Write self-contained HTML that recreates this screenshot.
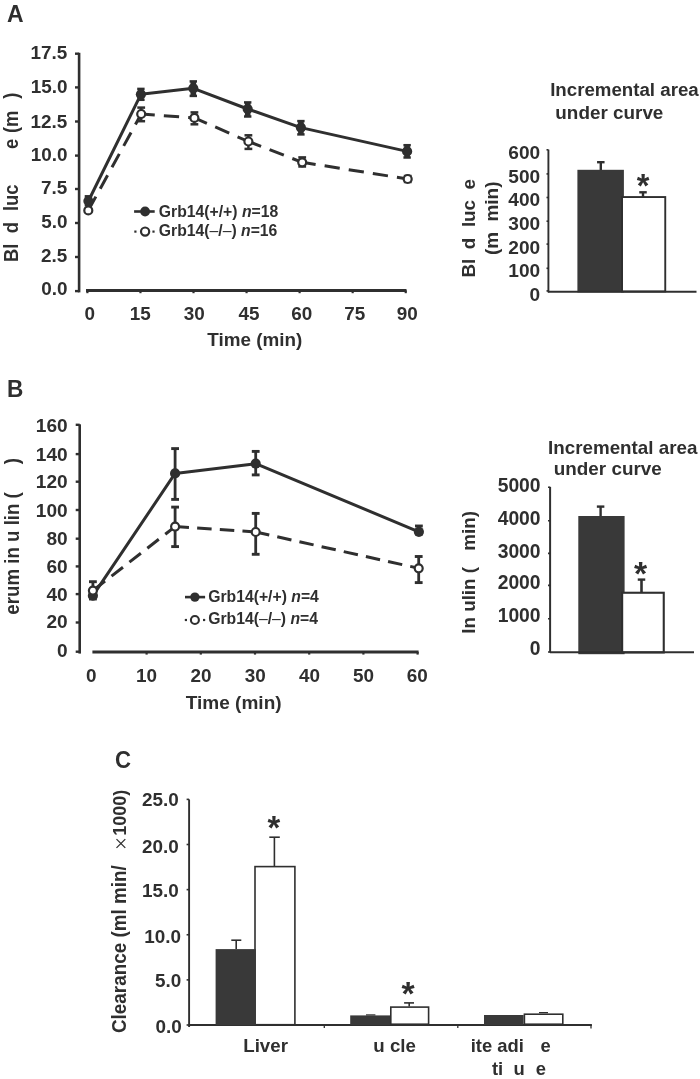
<!DOCTYPE html>
<html><head><meta charset="utf-8"><style>
html,body{margin:0;padding:0;background:#fff;}
svg{display:block;filter:grayscale(1);font-family:"Liberation Sans",sans-serif;}
</style></head><body>
<svg width="700" height="1079" viewBox="0 0 700 1079">
<rect width="700" height="1079" fill="#fff"/>
<text transform="translate(6.93,22.2) scale(0.9900,1)" font-size="23.20" font-weight="bold" font-style="normal" fill="#2f2f2f">A</text>
<line x1="79.1" y1="52.8" x2="79.1" y2="292.4" stroke="#2f2f2f" stroke-width="2.6" />
<line x1="75" y1="53.7" x2="79.1" y2="53.7" stroke="#2f2f2f" stroke-width="2.4" />
<text transform="translate(30.45,59.1) scale(1.0000,1)" font-size="18.90" font-weight="bold" font-style="normal" fill="#2f2f2f">17.5</text>
<line x1="75" y1="87.4" x2="79.1" y2="87.4" stroke="#2f2f2f" stroke-width="2.4" />
<text transform="translate(30.7,93.3) scale(1.0000,1)" font-size="18.90" font-weight="bold" font-style="normal" fill="#2f2f2f">15.0</text>
<line x1="75" y1="121.5" x2="79.1" y2="121.5" stroke="#2f2f2f" stroke-width="2.4" />
<text transform="translate(30.45,127.7) scale(1.0000,1)" font-size="18.90" font-weight="bold" font-style="normal" fill="#2f2f2f">12.5</text>
<line x1="75" y1="155.6" x2="79.1" y2="155.6" stroke="#2f2f2f" stroke-width="2.4" />
<text transform="translate(30.7,161) scale(1.0000,1)" font-size="18.90" font-weight="bold" font-style="normal" fill="#2f2f2f">10.0</text>
<line x1="75" y1="189" x2="79.1" y2="189" stroke="#2f2f2f" stroke-width="2.4" />
<text transform="translate(40.96,193.8) scale(1.0000,1)" font-size="18.90" font-weight="bold" font-style="normal" fill="#2f2f2f">7.5</text>
<line x1="75" y1="223" x2="79.1" y2="223" stroke="#2f2f2f" stroke-width="2.4" />
<text transform="translate(41.2,228.2) scale(1.0000,1)" font-size="18.90" font-weight="bold" font-style="normal" fill="#2f2f2f">5.0</text>
<line x1="75" y1="257" x2="79.1" y2="257" stroke="#2f2f2f" stroke-width="2.4" />
<text transform="translate(40.96,262.1) scale(1.0000,1)" font-size="18.90" font-weight="bold" font-style="normal" fill="#2f2f2f">2.5</text>
<line x1="75" y1="291.1" x2="79.1" y2="291.1" stroke="#2f2f2f" stroke-width="2.4" />
<text transform="translate(41.2,294.7) scale(1.0000,1)" font-size="18.90" font-weight="bold" font-style="normal" fill="#2f2f2f">0.0</text>
<line x1="86" y1="290.5" x2="406.5" y2="290.5" stroke="#2f2f2f" stroke-width="2.9" />
<line x1="87.4" y1="290.3" x2="87.4" y2="293.2" stroke="#2f2f2f" stroke-width="2.2" />
<text transform="translate(84.51,320.3) scale(1.0000,1)" font-size="18.90" font-weight="bold" font-style="normal" fill="#2f2f2f">0</text>
<line x1="140.46" y1="290.3" x2="140.46" y2="293.2" stroke="#2f2f2f" stroke-width="2.2" />
<text transform="translate(129.86,320.3) scale(1.0000,1)" font-size="18.90" font-weight="bold" font-style="normal" fill="#2f2f2f">15</text>
<line x1="193.51" y1="290.3" x2="193.51" y2="293.2" stroke="#2f2f2f" stroke-width="2.2" />
<text transform="translate(183.76,320.3) scale(1.0000,1)" font-size="18.90" font-weight="bold" font-style="normal" fill="#2f2f2f">30</text>
<line x1="246.56" y1="290.3" x2="246.56" y2="293.2" stroke="#2f2f2f" stroke-width="2.2" />
<text transform="translate(238.61,320.3) scale(1.0000,1)" font-size="18.90" font-weight="bold" font-style="normal" fill="#2f2f2f">45</text>
<line x1="299.62" y1="290.3" x2="299.62" y2="293.2" stroke="#2f2f2f" stroke-width="2.2" />
<text transform="translate(291.23,320.3) scale(1.0000,1)" font-size="18.90" font-weight="bold" font-style="normal" fill="#2f2f2f">60</text>
<line x1="352.67" y1="290.3" x2="352.67" y2="293.2" stroke="#2f2f2f" stroke-width="2.2" />
<text transform="translate(344.25,320.3) scale(1.0000,1)" font-size="18.90" font-weight="bold" font-style="normal" fill="#2f2f2f">75</text>
<line x1="405.73" y1="290.3" x2="405.73" y2="293.2" stroke="#2f2f2f" stroke-width="2.2" />
<text transform="translate(396.65,320.3) scale(1.0000,1)" font-size="18.90" font-weight="bold" font-style="normal" fill="#2f2f2f">90</text>
<text transform="translate(207.29,346.2) scale(1.0300,1)" font-size="18.30" font-weight="bold" font-style="normal" fill="#2f2f2f">Time (min)</text>
<text transform="translate(18.3,262.03) scale(1.0700,1) rotate(-90)" font-size="18.30" font-weight="bold" fill="#2f2f2f">Bl</text>
<text transform="translate(18.3,233.25) scale(1.0700,1) rotate(-90)" font-size="18.30" font-weight="bold" fill="#2f2f2f">d</text>
<text transform="translate(18.3,211.08) scale(1.0700,1) rotate(-90)" font-size="18.30" font-weight="bold" fill="#2f2f2f">luc</text>
<text transform="translate(18.3,149.01) scale(1.0700,1) rotate(-90)" font-size="18.30" font-weight="bold" fill="#2f2f2f">e</text>
<text transform="translate(18.3,133.01) scale(1.0700,1) rotate(-90)" font-size="18.30" font-weight="bold" fill="#2f2f2f">(m</text>
<text transform="translate(18.3,98.77) scale(1.0700,1) rotate(-90)" font-size="18.30" font-weight="bold" fill="#2f2f2f">)</text>
<line x1="88.3" y1="210.4" x2="141.2" y2="114" stroke="#2f2f2f" stroke-width="3.0" stroke-dasharray="15.3,9.1" stroke-dashoffset="-0.4"/>
<line x1="141.2" y1="114" x2="194.4" y2="117.9" stroke="#2f2f2f" stroke-width="3.0" stroke-dasharray="15.3,9.1" stroke-dashoffset="1.7"/>
<line x1="194.4" y1="117.9" x2="248.4" y2="141.5" stroke="#2f2f2f" stroke-width="3.0" stroke-dasharray="15.3,9.1" stroke-dashoffset="1.7"/>
<line x1="248.4" y1="141.5" x2="302.2" y2="162.3" stroke="#2f2f2f" stroke-width="3.0" stroke-dasharray="15.3,9.1" stroke-dashoffset="1.7"/>
<line x1="302.2" y1="162.3" x2="407.7" y2="179" stroke="#2f2f2f" stroke-width="3.0" stroke-dasharray="15.3,9.1" stroke-dashoffset="1.7"/>
<polyline points="88.4,201 140.9,94.3 193.3,88.3 247.7,109 300.9,127.6 407.1,151.4" fill="none" stroke="#2f2f2f" stroke-width="3.0" stroke-linejoin="round" />
<line x1="88.4" y1="196.3" x2="88.4" y2="205" stroke="#2f2f2f" stroke-width="2.5" />
<line x1="84.7" y1="196.3" x2="92.1" y2="196.3" stroke="#2f2f2f" stroke-width="2.5" />
<line x1="84.7" y1="205" x2="92.1" y2="205" stroke="#2f2f2f" stroke-width="2.5" />
<line x1="140.9" y1="88.9" x2="140.9" y2="99.8" stroke="#2f2f2f" stroke-width="2.5" />
<line x1="137.2" y1="88.9" x2="144.6" y2="88.9" stroke="#2f2f2f" stroke-width="2.5" />
<line x1="137.2" y1="99.8" x2="144.6" y2="99.8" stroke="#2f2f2f" stroke-width="2.5" />
<rect x="138.1" y="88.9" width="5.6" height="10.9" fill="#2f2f2f"/>
<line x1="193.3" y1="81.4" x2="193.3" y2="95.9" stroke="#2f2f2f" stroke-width="2.5" />
<line x1="189.6" y1="81.4" x2="197" y2="81.4" stroke="#2f2f2f" stroke-width="2.5" />
<line x1="189.6" y1="95.9" x2="197" y2="95.9" stroke="#2f2f2f" stroke-width="2.5" />
<rect x="190.5" y="81.4" width="5.6" height="14.5" fill="#2f2f2f"/>
<line x1="247.7" y1="102.4" x2="247.7" y2="116.5" stroke="#2f2f2f" stroke-width="2.5" />
<line x1="244" y1="102.4" x2="251.4" y2="102.4" stroke="#2f2f2f" stroke-width="2.5" />
<line x1="244" y1="116.5" x2="251.4" y2="116.5" stroke="#2f2f2f" stroke-width="2.5" />
<rect x="244.9" y="102.4" width="5.6" height="14.1" fill="#2f2f2f"/>
<line x1="300.9" y1="121.1" x2="300.9" y2="134.4" stroke="#2f2f2f" stroke-width="2.5" />
<line x1="297.2" y1="121.1" x2="304.6" y2="121.1" stroke="#2f2f2f" stroke-width="2.5" />
<line x1="297.2" y1="134.4" x2="304.6" y2="134.4" stroke="#2f2f2f" stroke-width="2.5" />
<rect x="298.1" y="121.1" width="5.6" height="13.3" fill="#2f2f2f"/>
<line x1="407.1" y1="145.2" x2="407.1" y2="157.5" stroke="#2f2f2f" stroke-width="2.5" />
<line x1="403.4" y1="145.2" x2="410.8" y2="145.2" stroke="#2f2f2f" stroke-width="2.5" />
<line x1="403.4" y1="157.5" x2="410.8" y2="157.5" stroke="#2f2f2f" stroke-width="2.5" />
<rect x="404.3" y="145.2" width="5.6" height="12.3" fill="#2f2f2f"/>
<line x1="141.2" y1="107.6" x2="141.2" y2="121.2" stroke="#2f2f2f" stroke-width="2.5" />
<line x1="137.3" y1="107.6" x2="145.1" y2="107.6" stroke="#2f2f2f" stroke-width="2.5" />
<line x1="137.3" y1="121.2" x2="145.1" y2="121.2" stroke="#2f2f2f" stroke-width="2.5" />
<line x1="194.4" y1="112.4" x2="194.4" y2="124.3" stroke="#2f2f2f" stroke-width="2.5" />
<line x1="190.5" y1="112.4" x2="198.3" y2="112.4" stroke="#2f2f2f" stroke-width="2.5" />
<line x1="190.5" y1="124.3" x2="198.3" y2="124.3" stroke="#2f2f2f" stroke-width="2.5" />
<line x1="248.4" y1="135.3" x2="248.4" y2="148.9" stroke="#2f2f2f" stroke-width="2.5" />
<line x1="244.5" y1="135.3" x2="252.3" y2="135.3" stroke="#2f2f2f" stroke-width="2.5" />
<line x1="244.5" y1="148.9" x2="252.3" y2="148.9" stroke="#2f2f2f" stroke-width="2.5" />
<line x1="302.2" y1="157.4" x2="302.2" y2="166.5" stroke="#2f2f2f" stroke-width="2.5" />
<line x1="298.3" y1="157.4" x2="306.1" y2="157.4" stroke="#2f2f2f" stroke-width="2.5" />
<line x1="298.3" y1="166.5" x2="306.1" y2="166.5" stroke="#2f2f2f" stroke-width="2.5" />
<line x1="407.7" y1="176" x2="407.7" y2="182" stroke="#2f2f2f" stroke-width="2.5" />
<line x1="403.8" y1="176" x2="411.6" y2="176" stroke="#2f2f2f" stroke-width="2.5" />
<line x1="403.8" y1="182" x2="411.6" y2="182" stroke="#2f2f2f" stroke-width="2.5" />
<circle cx="88.4" cy="201" r="5.1" fill="#2f2f2f" stroke="none" stroke-width="0"/>
<circle cx="140.9" cy="94.3" r="5.1" fill="#2f2f2f" stroke="none" stroke-width="0"/>
<circle cx="193.3" cy="88.3" r="5.1" fill="#2f2f2f" stroke="none" stroke-width="0"/>
<circle cx="247.7" cy="109" r="5.1" fill="#2f2f2f" stroke="none" stroke-width="0"/>
<circle cx="300.9" cy="127.6" r="5.1" fill="#2f2f2f" stroke="none" stroke-width="0"/>
<circle cx="407.1" cy="151.4" r="5.1" fill="#2f2f2f" stroke="none" stroke-width="0"/>
<circle cx="88.3" cy="210.4" r="4" fill="#fff" stroke="#2f2f2f" stroke-width="2.2"/>
<circle cx="141.2" cy="114" r="4" fill="#fff" stroke="#2f2f2f" stroke-width="2.2"/>
<circle cx="194.4" cy="117.9" r="4" fill="#fff" stroke="#2f2f2f" stroke-width="2.2"/>
<circle cx="248.4" cy="141.5" r="4" fill="#fff" stroke="#2f2f2f" stroke-width="2.2"/>
<circle cx="302.2" cy="162.3" r="4" fill="#fff" stroke="#2f2f2f" stroke-width="2.2"/>
<circle cx="407.7" cy="179" r="4" fill="#fff" stroke="#2f2f2f" stroke-width="2.2"/>
<line x1="134.1" y1="211.5" x2="154.7" y2="211.5" stroke="#2f2f2f" stroke-width="2.6" />
<circle cx="145.1" cy="211.5" r="4.9" fill="#2f2f2f" stroke="none" stroke-width="0"/>
<line x1="134.3" y1="231.6" x2="136.5" y2="231.6" stroke="#2f2f2f" stroke-width="2.2" />
<line x1="152.4" y1="231.6" x2="154.6" y2="231.6" stroke="#2f2f2f" stroke-width="2.2" />
<circle cx="145.1" cy="231.6" r="4.1" fill="#fff" stroke="#2f2f2f" stroke-width="2.2"/>
<text transform="translate(158.8,216.9) scale(0.9900,1)" font-size="15.90" font-weight="bold" font-style="normal" fill="#2f2f2f">Grb14(+/+) <tspan font-style="italic">n</tspan>=18</text>
<text transform="translate(158.8,235.8) scale(0.9900,1)" font-size="15.90" font-weight="bold" font-style="normal" fill="#2f2f2f">Grb14(<tspan font-weight="normal">–</tspan>/<tspan font-weight="normal">–</tspan>) <tspan font-style="italic">n</tspan>=16</text>
<text transform="translate(550.15,95.7) scale(1.0000,1)" font-size="18.70" font-weight="bold" font-style="normal" fill="#2f2f2f">Incremental area</text>
<text transform="translate(555.33,118.5) scale(1.0100,1)" font-size="18.70" font-weight="bold" font-style="normal" fill="#2f2f2f">under curve</text>
<line x1="548.4" y1="149.6" x2="548.4" y2="292.4" stroke="#2f2f2f" stroke-width="1.9" />
<line x1="546.5" y1="149.8" x2="548.4" y2="149.8" stroke="#2f2f2f" stroke-width="1.6" />
<text transform="translate(508.32,159) scale(1.0000,1)" font-size="19.10" font-weight="bold" font-style="normal" fill="#2f2f2f">600</text>
<line x1="546.5" y1="173.9" x2="548.4" y2="173.9" stroke="#2f2f2f" stroke-width="1.6" />
<text transform="translate(508.32,182.9) scale(1.0000,1)" font-size="19.10" font-weight="bold" font-style="normal" fill="#2f2f2f">500</text>
<line x1="546.5" y1="197.5" x2="548.4" y2="197.5" stroke="#2f2f2f" stroke-width="1.6" />
<text transform="translate(508.32,206.4) scale(1.0000,1)" font-size="19.10" font-weight="bold" font-style="normal" fill="#2f2f2f">400</text>
<line x1="546.5" y1="221.2" x2="548.4" y2="221.2" stroke="#2f2f2f" stroke-width="1.6" />
<text transform="translate(508.32,230.2) scale(1.0000,1)" font-size="19.10" font-weight="bold" font-style="normal" fill="#2f2f2f">300</text>
<line x1="546.5" y1="244.1" x2="548.4" y2="244.1" stroke="#2f2f2f" stroke-width="1.6" />
<text transform="translate(508.32,253.6) scale(1.0000,1)" font-size="19.10" font-weight="bold" font-style="normal" fill="#2f2f2f">200</text>
<line x1="546.5" y1="268.3" x2="548.4" y2="268.3" stroke="#2f2f2f" stroke-width="1.6" />
<text transform="translate(508.32,277.3) scale(1.0000,1)" font-size="19.10" font-weight="bold" font-style="normal" fill="#2f2f2f">100</text>
<line x1="546.5" y1="290.9" x2="548.4" y2="290.9" stroke="#2f2f2f" stroke-width="1.6" />
<text transform="translate(529.56,300.6) scale(1.0000,1)" font-size="19.10" font-weight="bold" font-style="normal" fill="#2f2f2f">0</text>
<rect x="577.4" y="169.8" width="46.5" height="122.6" fill="#393939"/>
<rect x="622.05" y="197.05" width="43.2" height="94.4" fill="#fff" stroke="#2f2f2f" stroke-width="1.9"/>
<line x1="548" y1="291.7" x2="696.5" y2="291.7" stroke="#2f2f2f" stroke-width="1.9" />
<line x1="600.8" y1="162.2" x2="600.8" y2="170" stroke="#2f2f2f" stroke-width="2.4" />
<line x1="597.05" y1="162.2" x2="604.55" y2="162.2" stroke="#2f2f2f" stroke-width="2.4" />
<line x1="643" y1="192.3" x2="643" y2="197" stroke="#2f2f2f" stroke-width="2.4" />
<line x1="639.25" y1="192.3" x2="646.75" y2="192.3" stroke="#2f2f2f" stroke-width="2.4" />
<text transform="translate(636.65,196.7) scale(1.0000,1)" font-size="32.47" font-weight="bold" font-style="normal" fill="#2f2f2f">*</text>
<text transform="translate(474.9,277.56) scale(1.0000,1) rotate(-90)" font-size="18.80" font-weight="bold" fill="#2f2f2f">Bl</text>
<text transform="translate(474.9,249.27) scale(1.0000,1) rotate(-90)" font-size="18.80" font-weight="bold" fill="#2f2f2f">d</text>
<text transform="translate(474.9,227.12) scale(1.0000,1) rotate(-90)" font-size="18.80" font-weight="bold" fill="#2f2f2f">luc</text>
<text transform="translate(474.9,189.53) scale(1.0000,1) rotate(-90)" font-size="18.80" font-weight="bold" fill="#2f2f2f">e</text>
<text transform="translate(497.8,255.05) scale(1.0000,1) rotate(-90)" font-size="19.00" font-weight="bold" fill="#2f2f2f">(m</text>
<text transform="translate(497.8,221.55) scale(1.0000,1) rotate(-90)" font-size="19.00" font-weight="bold" fill="#2f2f2f">min)</text>
<text transform="translate(7.08,396.9) scale(0.9400,1)" font-size="24.10" font-weight="bold" font-style="normal" fill="#2f2f2f">B</text>
<line x1="79.7" y1="424.3" x2="79.7" y2="653.6" stroke="#2f2f2f" stroke-width="2.6" />
<line x1="75.7" y1="424.8" x2="79.7" y2="424.8" stroke="#2f2f2f" stroke-width="2.4" />
<text transform="translate(35.82,431.6) scale(1.0000,1)" font-size="19.10" font-weight="bold" font-style="normal" fill="#2f2f2f">160</text>
<line x1="75.7" y1="454.1" x2="79.7" y2="454.1" stroke="#2f2f2f" stroke-width="2.4" />
<text transform="translate(35.82,460.55) scale(1.0000,1)" font-size="19.10" font-weight="bold" font-style="normal" fill="#2f2f2f">140</text>
<line x1="75.7" y1="481.7" x2="79.7" y2="481.7" stroke="#2f2f2f" stroke-width="2.4" />
<text transform="translate(35.82,487.95) scale(1.0000,1)" font-size="19.10" font-weight="bold" font-style="normal" fill="#2f2f2f">120</text>
<line x1="75.7" y1="510" x2="79.7" y2="510" stroke="#2f2f2f" stroke-width="2.4" />
<text transform="translate(35.82,516.5) scale(1.0000,1)" font-size="19.10" font-weight="bold" font-style="normal" fill="#2f2f2f">100</text>
<line x1="75.7" y1="538.7" x2="79.7" y2="538.7" stroke="#2f2f2f" stroke-width="2.4" />
<text transform="translate(46.44,545.1) scale(1.0000,1)" font-size="19.10" font-weight="bold" font-style="normal" fill="#2f2f2f">80</text>
<line x1="75.7" y1="566.4" x2="79.7" y2="566.4" stroke="#2f2f2f" stroke-width="2.4" />
<text transform="translate(46.44,572.6) scale(1.0000,1)" font-size="19.10" font-weight="bold" font-style="normal" fill="#2f2f2f">60</text>
<line x1="75.7" y1="594.1" x2="79.7" y2="594.1" stroke="#2f2f2f" stroke-width="2.4" />
<text transform="translate(46.44,600.5) scale(1.0000,1)" font-size="19.10" font-weight="bold" font-style="normal" fill="#2f2f2f">40</text>
<line x1="75.7" y1="622.5" x2="79.7" y2="622.5" stroke="#2f2f2f" stroke-width="2.4" />
<text transform="translate(46.44,628) scale(1.0000,1)" font-size="19.10" font-weight="bold" font-style="normal" fill="#2f2f2f">20</text>
<line x1="75.7" y1="651.7" x2="79.7" y2="651.7" stroke="#2f2f2f" stroke-width="2.4" />
<text transform="translate(57.06,656.6) scale(1.0000,1)" font-size="19.10" font-weight="bold" font-style="normal" fill="#2f2f2f">0</text>
<line x1="92.4" y1="652" x2="418.6" y2="652" stroke="#2f2f2f" stroke-width="2.9" />
<text transform="translate(85.96,681.6) scale(1.0000,1)" font-size="18.90" font-weight="bold" font-style="normal" fill="#2f2f2f">0</text>
<line x1="146.6" y1="651.9" x2="146.6" y2="654.6" stroke="#2f2f2f" stroke-width="2.2" />
<text transform="translate(135.88,681.6) scale(1.0000,1)" font-size="18.90" font-weight="bold" font-style="normal" fill="#2f2f2f">10</text>
<line x1="200.8" y1="651.9" x2="200.8" y2="654.6" stroke="#2f2f2f" stroke-width="2.2" />
<text transform="translate(190.45,681.6) scale(1.0000,1)" font-size="18.90" font-weight="bold" font-style="normal" fill="#2f2f2f">20</text>
<line x1="255" y1="651.9" x2="255" y2="654.6" stroke="#2f2f2f" stroke-width="2.2" />
<text transform="translate(244.66,681.6) scale(1.0000,1)" font-size="18.90" font-weight="bold" font-style="normal" fill="#2f2f2f">30</text>
<line x1="309.2" y1="651.9" x2="309.2" y2="654.6" stroke="#2f2f2f" stroke-width="2.2" />
<text transform="translate(299.04,681.6) scale(1.0000,1)" font-size="18.90" font-weight="bold" font-style="normal" fill="#2f2f2f">40</text>
<line x1="363.4" y1="651.9" x2="363.4" y2="654.6" stroke="#2f2f2f" stroke-width="2.2" />
<text transform="translate(353.09,681.6) scale(1.0000,1)" font-size="18.90" font-weight="bold" font-style="normal" fill="#2f2f2f">50</text>
<line x1="417.6" y1="651.9" x2="417.6" y2="654.6" stroke="#2f2f2f" stroke-width="2.2" />
<text transform="translate(406.63,681.6) scale(1.0000,1)" font-size="18.90" font-weight="bold" font-style="normal" fill="#2f2f2f">60</text>
<text transform="translate(185.79,708.6) scale(1.0400,1)" font-size="18.30" font-weight="bold" font-style="normal" fill="#2f2f2f">Time (min)</text>
<text transform="translate(18.7,614.63) scale(1.0600,1) rotate(-90)" font-size="18.70" font-weight="bold" fill="#2f2f2f">erum in u lin (</text>
<text transform="translate(18.7,464.22) scale(1.0600,1) rotate(-90)" font-size="18.70" font-weight="bold" fill="#2f2f2f">)</text>
<line x1="92.9" y1="590.6" x2="175.1" y2="526.6" stroke="#2f2f2f" stroke-width="3.0" stroke-dasharray="14.5,8.2" stroke-dashoffset="-0.9"/>
<line x1="175.1" y1="526.6" x2="255.7" y2="532" stroke="#2f2f2f" stroke-width="3.0" stroke-dasharray="14.5,8.2" stroke-dashoffset="0.6"/>
<line x1="255.7" y1="532" x2="418.7" y2="568.3" stroke="#2f2f2f" stroke-width="3.0" stroke-dasharray="14.5,8.2" stroke-dashoffset="0.6"/>
<polyline points="92.9,595.7 175.1,473.4 255.7,463.7 418.9,531.8" fill="none" stroke="#2f2f2f" stroke-width="3.0" stroke-linejoin="round" />
<line x1="92.9" y1="590" x2="92.9" y2="599" stroke="#2f2f2f" stroke-width="2.8" />
<line x1="89" y1="590" x2="96.8" y2="590" stroke="#2f2f2f" stroke-width="2.9" />
<line x1="89" y1="599" x2="96.8" y2="599" stroke="#2f2f2f" stroke-width="2.9" />
<line x1="175.1" y1="448.6" x2="175.1" y2="499.4" stroke="#2f2f2f" stroke-width="2.8" />
<line x1="171.2" y1="448.6" x2="179" y2="448.6" stroke="#2f2f2f" stroke-width="2.9" />
<line x1="171.2" y1="499.4" x2="179" y2="499.4" stroke="#2f2f2f" stroke-width="2.9" />
<line x1="255.7" y1="451.4" x2="255.7" y2="474.9" stroke="#2f2f2f" stroke-width="2.8" />
<line x1="251.8" y1="451.4" x2="259.6" y2="451.4" stroke="#2f2f2f" stroke-width="2.9" />
<line x1="251.8" y1="474.9" x2="259.6" y2="474.9" stroke="#2f2f2f" stroke-width="2.9" />
<line x1="418.9" y1="526" x2="418.9" y2="534" stroke="#2f2f2f" stroke-width="2.8" />
<line x1="415" y1="526" x2="422.8" y2="526" stroke="#2f2f2f" stroke-width="2.9" />
<line x1="415" y1="534" x2="422.8" y2="534" stroke="#2f2f2f" stroke-width="2.9" />
<line x1="92.9" y1="581.7" x2="92.9" y2="596" stroke="#2f2f2f" stroke-width="2.8" />
<line x1="89" y1="581.7" x2="96.8" y2="581.7" stroke="#2f2f2f" stroke-width="2.9" />
<line x1="89" y1="596" x2="96.8" y2="596" stroke="#2f2f2f" stroke-width="2.9" />
<line x1="175.1" y1="507.1" x2="175.1" y2="546.6" stroke="#2f2f2f" stroke-width="2.8" />
<line x1="171.2" y1="507.1" x2="179" y2="507.1" stroke="#2f2f2f" stroke-width="2.9" />
<line x1="171.2" y1="546.6" x2="179" y2="546.6" stroke="#2f2f2f" stroke-width="2.9" />
<line x1="255.7" y1="513.4" x2="255.7" y2="554.3" stroke="#2f2f2f" stroke-width="2.8" />
<line x1="251.8" y1="513.4" x2="259.6" y2="513.4" stroke="#2f2f2f" stroke-width="2.9" />
<line x1="251.8" y1="554.3" x2="259.6" y2="554.3" stroke="#2f2f2f" stroke-width="2.9" />
<line x1="418.7" y1="556.5" x2="418.7" y2="582.6" stroke="#2f2f2f" stroke-width="2.8" />
<line x1="414.8" y1="556.5" x2="422.6" y2="556.5" stroke="#2f2f2f" stroke-width="2.9" />
<line x1="414.8" y1="582.6" x2="422.6" y2="582.6" stroke="#2f2f2f" stroke-width="2.9" />
<circle cx="92.9" cy="595.7" r="5.1" fill="#2f2f2f" stroke="none" stroke-width="0"/>
<circle cx="175.1" cy="473.4" r="5.1" fill="#2f2f2f" stroke="none" stroke-width="0"/>
<circle cx="255.7" cy="463.7" r="5.1" fill="#2f2f2f" stroke="none" stroke-width="0"/>
<circle cx="418.9" cy="531.8" r="5.1" fill="#2f2f2f" stroke="none" stroke-width="0"/>
<circle cx="92.9" cy="590.6" r="4" fill="#fff" stroke="#2f2f2f" stroke-width="2.2"/>
<circle cx="175.1" cy="526.6" r="4" fill="#fff" stroke="#2f2f2f" stroke-width="2.2"/>
<circle cx="255.7" cy="532" r="4" fill="#fff" stroke="#2f2f2f" stroke-width="2.2"/>
<circle cx="418.7" cy="568.3" r="4" fill="#fff" stroke="#2f2f2f" stroke-width="2.2"/>
<line x1="185" y1="597.1" x2="205.1" y2="597.1" stroke="#2f2f2f" stroke-width="2.6" />
<circle cx="194.9" cy="597.1" r="4.7" fill="#2f2f2f" stroke="none" stroke-width="0"/>
<line x1="184.8" y1="620" x2="187" y2="620" stroke="#2f2f2f" stroke-width="2.2" />
<line x1="203" y1="620" x2="205.2" y2="620" stroke="#2f2f2f" stroke-width="2.2" />
<circle cx="194.9" cy="620" r="4" fill="#fff" stroke="#2f2f2f" stroke-width="2.1"/>
<text transform="translate(208.2,601.9) scale(0.9900,1)" font-size="15.90" font-weight="bold" font-style="normal" fill="#2f2f2f">Grb14(+/+) <tspan font-style="italic">n</tspan>=4</text>
<text transform="translate(208.2,624.1) scale(0.9900,1)" font-size="15.90" font-weight="bold" font-style="normal" fill="#2f2f2f">Grb14(<tspan font-weight="normal">–</tspan>/<tspan font-weight="normal">–</tspan>) <tspan font-style="italic">n</tspan>=4</text>
<text transform="translate(548.04,453.5) scale(1.0050,1)" font-size="18.70" font-weight="bold" font-style="normal" fill="#2f2f2f">Incremental area</text>
<text transform="translate(553.73,475.4) scale(1.0100,1)" font-size="18.70" font-weight="bold" font-style="normal" fill="#2f2f2f">under curve</text>
<line x1="550.1" y1="486.8" x2="550.1" y2="652.5" stroke="#2f2f2f" stroke-width="2.0" />
<line x1="548" y1="487.2" x2="550" y2="487.2" stroke="#2f2f2f" stroke-width="1.6" />
<text transform="translate(497.67,491.7) scale(1.0000,1)" font-size="19.30" font-weight="bold" font-style="normal" fill="#2f2f2f">5000</text>
<line x1="548" y1="520.8" x2="550" y2="520.8" stroke="#2f2f2f" stroke-width="1.6" />
<text transform="translate(497.67,524.6) scale(1.0000,1)" font-size="19.30" font-weight="bold" font-style="normal" fill="#2f2f2f">4000</text>
<line x1="548" y1="553.4" x2="550" y2="553.4" stroke="#2f2f2f" stroke-width="1.6" />
<text transform="translate(497.67,557.6) scale(1.0000,1)" font-size="19.30" font-weight="bold" font-style="normal" fill="#2f2f2f">3000</text>
<line x1="548" y1="585.4" x2="550" y2="585.4" stroke="#2f2f2f" stroke-width="1.6" />
<text transform="translate(497.67,589.4) scale(1.0000,1)" font-size="19.30" font-weight="bold" font-style="normal" fill="#2f2f2f">2000</text>
<line x1="548" y1="618.8" x2="550" y2="618.8" stroke="#2f2f2f" stroke-width="1.6" />
<text transform="translate(497.67,622.4) scale(1.0000,1)" font-size="19.30" font-weight="bold" font-style="normal" fill="#2f2f2f">1000</text>
<line x1="548" y1="652" x2="550" y2="652" stroke="#2f2f2f" stroke-width="1.6" />
<text transform="translate(529.86,655.4) scale(1.0000,1)" font-size="19.30" font-weight="bold" font-style="normal" fill="#2f2f2f">0</text>
<rect x="578.3" y="516" width="46.3" height="138.2" fill="#393939"/>
<rect x="622.15" y="592.75" width="41.6" height="59.7" fill="#fff" stroke="#2f2f2f" stroke-width="2.1"/>
<line x1="550" y1="652.2" x2="694" y2="652.2" stroke="#2f2f2f" stroke-width="1.9" />
<line x1="600.6" y1="506.6" x2="600.6" y2="516" stroke="#2f2f2f" stroke-width="2.4" />
<line x1="596.85" y1="506.6" x2="604.35" y2="506.6" stroke="#2f2f2f" stroke-width="2.4" />
<line x1="641.5" y1="579.6" x2="641.5" y2="593" stroke="#2f2f2f" stroke-width="2.6" />
<line x1="637.75" y1="579.6" x2="645.25" y2="579.6" stroke="#2f2f2f" stroke-width="2.4" />
<text transform="translate(634,584.85) scale(1.0000,1)" font-size="33.77" font-weight="bold" font-style="normal" fill="#2f2f2f">*</text>
<text transform="translate(475.1,633.76) scale(0.9700,1) rotate(-90)" font-size="18.80" font-weight="bold" fill="#2f2f2f">In ulin (</text>
<text transform="translate(475.1,550.64) scale(0.9700,1) rotate(-90)" font-size="18.80" font-weight="bold" fill="#2f2f2f">min)</text>
<text transform="translate(114.99,767.9) scale(0.9100,1)" font-size="24.40" font-weight="bold" font-style="normal" fill="#2f2f2f">C</text>
<line x1="189.1" y1="799.4" x2="189.1" y2="1027" stroke="#2f2f2f" stroke-width="1.9" />
<line x1="186.6" y1="1025" x2="189.1" y2="1025" stroke="#2f2f2f" stroke-width="1.6" />
<text transform="translate(155.6,1033) scale(1.0500,1)" font-size="18.00" font-weight="bold" font-style="normal" fill="#2f2f2f">0.0</text>
<line x1="186.6" y1="979.88" x2="189.1" y2="979.88" stroke="#2f2f2f" stroke-width="1.6" />
<text transform="translate(155.1,986.5) scale(1.0500,1)" font-size="18.00" font-weight="bold" font-style="normal" fill="#2f2f2f">5.0</text>
<line x1="186.6" y1="934.75" x2="189.1" y2="934.75" stroke="#2f2f2f" stroke-width="1.6" />
<text transform="translate(144.3,942.6) scale(1.0500,1)" font-size="18.00" font-weight="bold" font-style="normal" fill="#2f2f2f">10.0</text>
<line x1="186.6" y1="889.62" x2="189.1" y2="889.62" stroke="#2f2f2f" stroke-width="1.6" />
<text transform="translate(142.1,896.8) scale(1.0500,1)" font-size="18.00" font-weight="bold" font-style="normal" fill="#2f2f2f">15.0</text>
<line x1="186.6" y1="844.5" x2="189.1" y2="844.5" stroke="#2f2f2f" stroke-width="1.6" />
<text transform="translate(142.1,852.6) scale(1.0500,1)" font-size="18.00" font-weight="bold" font-style="normal" fill="#2f2f2f">20.0</text>
<line x1="186.6" y1="799.38" x2="189.1" y2="799.38" stroke="#2f2f2f" stroke-width="1.6" />
<text transform="translate(142.1,806.1) scale(1.0500,1)" font-size="18.00" font-weight="bold" font-style="normal" fill="#2f2f2f">25.0</text>
<line x1="189" y1="1025" x2="591.9" y2="1025" stroke="#2f2f2f" stroke-width="2.1" />
<line x1="324.3" y1="1025" x2="324.3" y2="1028" stroke="#2f2f2f" stroke-width="1.3" />
<line x1="457.8" y1="1025" x2="457.8" y2="1028" stroke="#2f2f2f" stroke-width="1.3" />
<line x1="591" y1="1025" x2="591" y2="1028.5" stroke="#2f2f2f" stroke-width="1.3" />
<rect x="255" y="866.6" width="39.9" height="158.1" fill="#fff" stroke="#2f2f2f" stroke-width="1.6"/>
<rect x="215.6" y="949.1" width="40.3" height="76" fill="#393939"/>
<line x1="236.2" y1="940.2" x2="236.2" y2="949.1" stroke="#2f2f2f" stroke-width="1.6" />
<line x1="231.3" y1="940.2" x2="241.3" y2="940.2" stroke="#2f2f2f" stroke-width="1.6" />
<line x1="274.4" y1="837.2" x2="274.4" y2="866" stroke="#2f2f2f" stroke-width="1.6" />
<line x1="269.3" y1="837.2" x2="279.8" y2="837.2" stroke="#2f2f2f" stroke-width="1.6" />
<text transform="translate(267.4,838.53) scale(1.0000,1)" font-size="32.73" font-weight="bold" font-style="normal" fill="#2f2f2f">*</text>
<rect x="350.2" y="1015.4" width="39.8" height="9.6" fill="#393939"/>
<rect x="390.8" y="1007.1" width="37.8" height="17.1" fill="#fff" stroke="#2f2f2f" stroke-width="1.6"/>
<line x1="409.2" y1="1002.9" x2="409.2" y2="1006.5" stroke="#2f2f2f" stroke-width="1.6" />
<line x1="404.1" y1="1002.9" x2="414" y2="1002.9" stroke="#2f2f2f" stroke-width="1.6" />
<line x1="366" y1="1014.9" x2="375.4" y2="1014.9" stroke="#2f2f2f" stroke-width="1.2" />
<text transform="translate(401.4,1004.95) scale(1.0000,1)" font-size="33.77" font-weight="bold" font-style="normal" fill="#2f2f2f">*</text>
<rect x="484" y="1015" width="39.6" height="10" fill="#393939"/>
<rect x="524.4" y="1014.2" width="38.4" height="10" fill="#fff" stroke="#2f2f2f" stroke-width="1.6"/>
<line x1="539" y1="1012.6" x2="548" y2="1012.6" stroke="#2f2f2f" stroke-width="1.2" />
<text transform="translate(243.25,1052.2) scale(1.0000,1)" font-size="18.70" font-weight="bold" font-style="normal" fill="#2f2f2f">Liver</text>
<text transform="translate(373.24,1052.1) scale(1.0000,1)" font-size="18.70" font-weight="bold" font-style="normal" fill="#2f2f2f">u</text>
<text transform="translate(389.97,1052.1) scale(1.0000,1)" font-size="18.70" font-weight="bold" font-style="normal" fill="#2f2f2f">cle</text>
<text transform="translate(470.71,1051.9) scale(1.0000,1)" font-size="18.40" font-weight="bold" font-style="normal" fill="#2f2f2f">ite adi</text>
<text transform="translate(540.58,1051.9) scale(1.0000,1)" font-size="18.40" font-weight="bold" font-style="normal" fill="#2f2f2f">e</text>
<text transform="translate(491.98,1074.5) scale(1.0000,1)" font-size="18.40" font-weight="bold" font-style="normal" fill="#2f2f2f">ti</text>
<text transform="translate(513.46,1074.5) scale(1.0000,1)" font-size="18.40" font-weight="bold" font-style="normal" fill="#2f2f2f">u</text>
<text transform="translate(535.68,1074.5) scale(1.0000,1)" font-size="18.40" font-weight="bold" font-style="normal" fill="#2f2f2f">e</text>
<text transform="translate(126.1,1033.07) scale(1.0500,1) rotate(-90)" font-size="18.90" font-weight="bold" fill="#2f2f2f">Clearance (ml min/</text>
<line x1="116.5" y1="839.1" x2="125.3" y2="847.9" stroke="#2f2f2f" stroke-width="1.3" />
<line x1="116.5" y1="847.9" x2="125.3" y2="839.1" stroke="#2f2f2f" stroke-width="1.3" />
<text transform="translate(126.1,835.63) scale(1.0400,1) rotate(-90)" font-size="17.90" font-weight="bold" fill="#2f2f2f">1000)</text>
</svg></body></html>
